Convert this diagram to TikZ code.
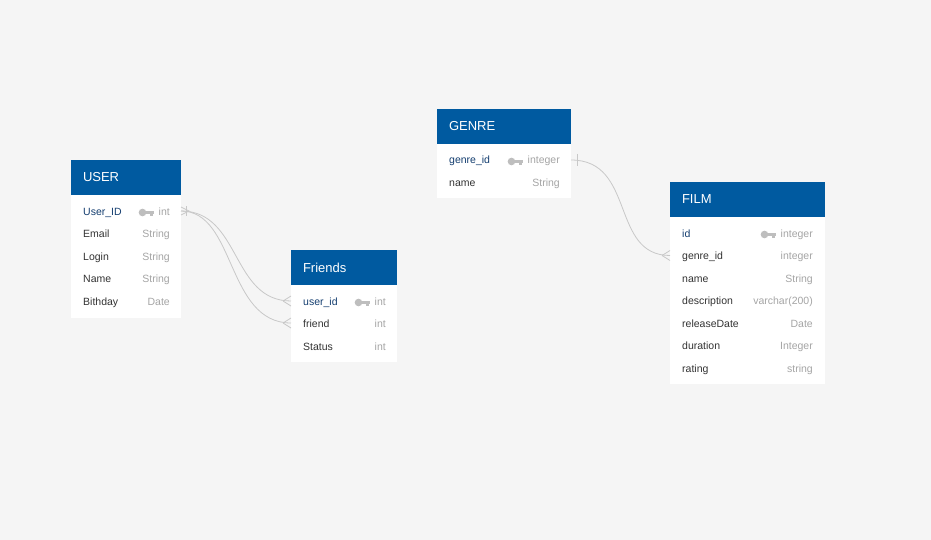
\documentclass[tikz,border=0pt]{standalone}
\usepackage{fontspec}
\setmainfont{Liberation Sans}
\usetikzlibrary{positioning}
\usetikzlibrary{calc}
\definecolor{hdblue}{RGB}{0,90,160}
\definecolor{bggray}{RGB}{245,245,245}
\definecolor{keyblue}{RGB}{20,62,112}
\definecolor{fldtext}{RGB}{51,51,51}
\definecolor{typegray}{RGB}{165,165,165}
\definecolor{keygray}{RGB}{190,190,190}
\definecolor{linegray}{RGB}{200,200,200}
\begin{document}
\begin{tikzpicture}[x=1pt, y=-1pt,
  head/.style={fill=hdblue, text=white, font=\fontsize{13}{15}\selectfont, anchor=north west,
    inner xsep=12pt, inner ysep=0pt, outer sep=0pt, minimum height=35pt, align=left,
    text height=10pt, text depth=1pt},
  body/.style={fill=white, outer sep=0pt, inner sep=0pt},
  fld/.style={text=fldtext, font=\fontsize{10.5}{12}\selectfont, anchor=west, inner sep=0pt,
    text height=10pt, text depth=2pt},
  keyfld/.style={fld, text=keyblue},
  typ/.style={text=typegray, font=\fontsize{10.5}{12}\selectfont, anchor=east, inner sep=0pt,
    text height=10pt, text depth=2pt},
  rel/.style={draw=linegray, line width=0.8pt},
  keyicon/.pic={\fill[keygray] (0,0) circle (3.8);
    \fill[keygray] (2,-1.5) rectangle (11,1.3);
    \fill[keygray] (7,0) rectangle (10.5,3.8);}]
\fill[bggray] (0,0) rectangle (931,540);
\useasboundingbox (0,0) rectangle (931,540);

% USER
\node[head, text width=86pt] (user-h) at (71,160) {USER};
\node[body, minimum width=110pt, minimum height=123pt, below=0pt of user-h] (user) {};
\node[keyfld] (uid) at (83,211) {User\_ID};
\node[typ] (uidt) at (170,211) {int};
\pic at ([xshift=-16pt,yshift=-1.5pt]uidt.west) {keyicon};
\foreach \n/\t [count=\i] in {Email/String, Login/String, Name/String, Bithday/Date}
  {\node[fld] (u\i) at (83,211+22.5*\i) {\n};
   \node[typ] (ut\i) at (170,211+22.5*\i) {\t};}

% Friends
\node[head, text width=82pt] (friends-h) at (291,250) {Friends};
\node[body, minimum width=106pt, minimum height=77pt, below=0pt of friends-h] (friends) {};
\node[keyfld] (fuid) at (303,301) {user\_id};
\node[typ] (fuidt) at (386,301) {int};
\pic at ([xshift=-16pt,yshift=-1.5pt]fuidt.west) {keyicon};
\node[fld] (ffr) at (303,323) {friend};
\node[typ] (ffrt) at (386,323) {int};
\node[fld] (fst) at (303,346) {Status};
\node[typ] (fstt) at (386,346) {int};

% GENRE
\node[head, text width=110pt] (genre-h) at (437,109) {GENRE};
\node[body, minimum width=134pt, minimum height=54pt, below=0pt of genre-h] (genre) {};
\node[keyfld] (gid) at (449,160) {genre\_id};
\node[typ] (gidt) at (560,160) {integer};
\pic at ([xshift=-16pt,yshift=-1.5pt]gidt.west) {keyicon};
\node[fld] (gnm) at (449,182) {name};
\node[typ] (gnmt) at (560,182) {String};

% FILM
\node[head, text width=131pt] (film-h) at (670,182) {FILM};
\node[body, minimum width=155pt, minimum height=167pt, below=0pt of film-h] (film) {};
\node[keyfld] (fid) at (682,233) {id};
\node[typ] (fidt) at (813,233) {integer};
\pic at ([xshift=-16pt,yshift=-1.5pt]fidt.west) {keyicon};
\foreach \n/\t [count=\i] in {genre\_id/integer, name/String, description/varchar(200),
    releaseDate/Date, duration/Integer, rating/string}
  {\node[fld] (m\i) at (682,233+22.5*\i) {\n};
   \node[typ] (mt\i) at (813,233+22.5*\i) {\t};}

% relations
\draw[rel] (uid -| user.east) .. controls +(60,0) and +(-60,0) .. (fuid -| friends.west);
\draw[rel] (uid -| user.east) .. controls +(55,0) and +(-65,0) .. (ffr -| friends.west);
\draw[rel] ($(uid -| user.east)+(5,-5)$) -- ++(0,10);
\draw[rel] ($(uid -| user.east)+(0,-4)$) -- ++(8,4) -- ++(-8,4);
\foreach \p in {fuid, ffr}
  \draw[rel] ($(\p -| friends.west)+(-8,0)$) -- ++(8,-5) ++(-8,5) -- ++(8,5);

\draw[rel] (gid -| genre.east) .. controls +(65,0) and +(-60,0) .. (m1 -| film.west);
\draw[rel] ($(gid -| genre.east)+(6,-6)$) -- ++(0,12);
\draw[rel] ($(m1 -| film.west)+(-8,0)$) -- ++(8,-5) ++(-8,5) -- ++(8,5);
\end{tikzpicture}
\end{document}
